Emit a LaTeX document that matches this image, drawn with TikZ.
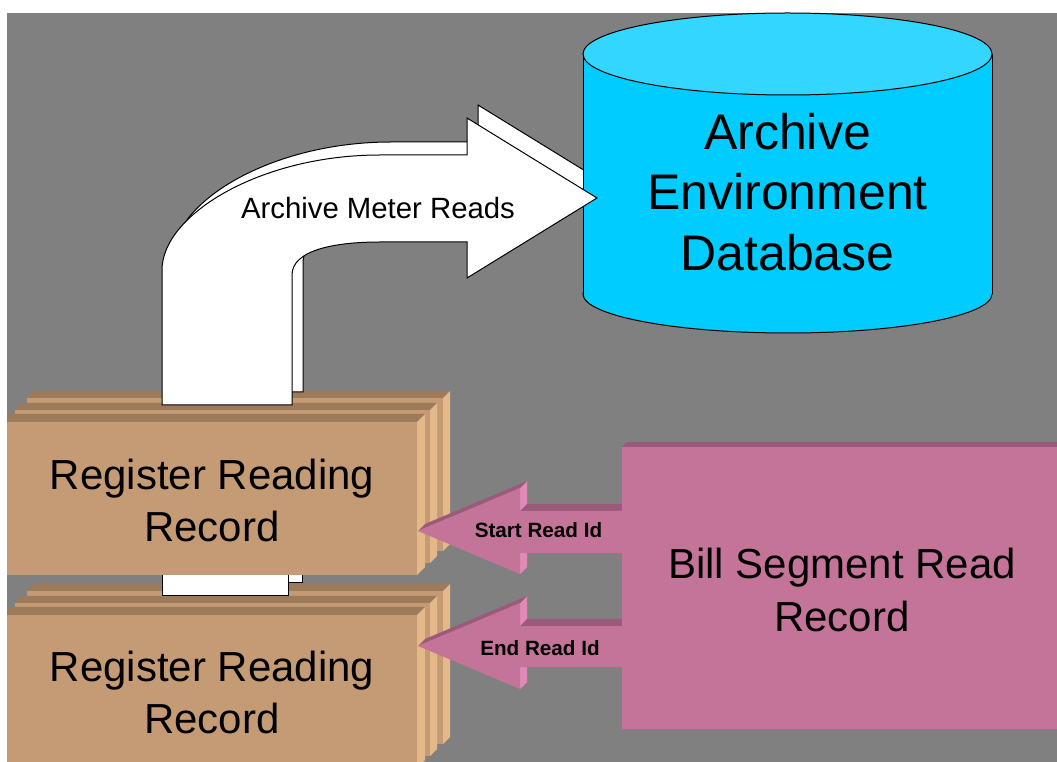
\documentclass[tikz,border=0pt]{standalone}
\usepackage{fontspec}
\setmainfont{Liberation Sans}
\definecolor{bggray}{RGB}{128,128,128}
\definecolor{tanface}{RGB}{196,155,116}
\definecolor{tandark}{RGB}{156,122,90}
\definecolor{tanlight}{RGB}{228,184,136}
\definecolor{pinkface}{RGB}{196,116,153}
\definecolor{pinkdark}{RGB}{156,90,122}
\definecolor{pinklight}{RGB}{224,138,184}
\definecolor{cyanbody}{RGB}{0,204,255}
\definecolor{cyantop}{RGB}{51,214,255}
\newcommand\tanlayer[5]{%
  \fill[tandark] (#1,#2) -- (#1+#5,#2-#5) -- (#3+#5,#2-#5) -- (#3,#2) -- cycle;
  \fill[tanlight] (#3,#2) -- (#3+#5,#2-#5) -- (#3+#5,#4-#5) -- (#3,#4) -- cycle;
  \fill[tanface] (#1,#2) rectangle (#3,#4);}
\tikzset{
  outl/.style={draw=black, line width=0.75pt, line join=miter},
  whiteshape/.style={outl, fill=white},
  bigtext/.style={font=\fontsize{37.5}{45.5}\selectfont, align=center, inner sep=0pt},
  rrtext/.style={font=\fontsize{31.5}{39}\selectfont, align=center, inner sep=0pt},
  billtext/.style={font=\fontsize{31.5}{39.75}\selectfont, align=center, inner sep=0pt},
  smalltext/.style={font=\bfseries\fontsize{15.5}{18}\selectfont, inner sep=0pt, anchor=base},
  pinkbox/.style={fill=pinkface, inner sep=0pt}
}
\begin{document}
\begin{tikzpicture}[x=0.75pt,y=-0.75pt]
\useasboundingbox (0,0) rectangle (1057,762);
\fill[white] (0,0) rectangle (1057,762);
\fill[bggray] (7,13) rectangle (1057,762);
\begin{scope}
\clip (7,13) rectangle (1057,762);

% ---- lower stack (back, middle)
\tanlayer{27}{591}{443}{744}{7}
\tanlayer{15}{603}{430}{756}{7}
% white shaft piece between the stacks
\filldraw[whiteshape] (173,560) rectangle (302,583);
\filldraw[whiteshape] (162,560) rectangle (288,596);
% lower stack front
\tanlayer{-5}{615}{417}{768}{8}
\node[rrtext] (rr2) at (212,692) {Register Reading\\Record};

% ---- upper stack (back, middle)
\tanlayer{27}{398}{443}{551}{7}
\tanlayer{15}{410}{430}{563}{7}

% ---- big bent arrow: shadow copy
\begin{scope}[shift={(11,-13)}]
\filldraw[whiteshape] (162,405) -- (162,270) .. controls (162,215) and (260,155) .. (380,155)
  -- (467,155) -- (467,118) -- (597,198) -- (467,278) -- (467,242) -- (380,242)
  .. controls (335,242) and (292,250) .. (292,275) -- (292,405) -- cycle;
\end{scope}

% ---- database cylinder
\filldraw[outl, fill=cyanbody] (787.5,294) ellipse[x radius=204.5, y radius=39];
\fill[cyanbody] (583,54) rectangle (992,294);
\draw[outl] (583,54) -- (583,294);
\draw[outl] (992,54) -- (992,294);
\filldraw[outl, fill=cyantop] (787.5,54) ellipse[x radius=204.5, y radius=41];
\node[bigtext] (db) at (787.5,192) {Archive\\Environment\\Database};

% ---- big bent arrow: front
\filldraw[whiteshape] (162,405) -- (162,270) .. controls (162,215) and (260,155) .. (380,155)
  -- (467,155) -- (467,118) -- (597,198) -- (467,278) -- (467,242) -- (380,242)
  .. controls (335,242) and (292,250) .. (292,275) -- (292,405) -- cycle;
\node[font=\fontsize{22}{26}\selectfont, inner sep=0pt, anchor=base] (amr) at (378,219) {Archive Meter Reads};

% ---- upper stack front
\tanlayer{-5}{422}{417}{575}{8}
\node[rrtext] (rr1) at (212,500) {Register Reading\\Record};

% ---- start read id arrow
\fill[pinklight] (520,488) -- (527,481) -- (527,567) -- (520,574) -- cycle;
\fill[pinkdark] (418,531) -- (425,524) -- (527,481) -- (520,488) -- cycle;
\fill[pinkdark] (520,511) -- (527,504) -- (625,504) -- (625,511) -- cycle;
\fill[pinkface] (418,531) -- (520,488) -- (520,511) -- (625,511) -- (625,553) -- (520,553) -- (520,574) -- cycle;
\node[smalltext] (sri) at (538.5,538) {Start Read Id};

% ---- end read id arrow
\fill[pinklight] (520,603) -- (527,596) -- (527,682) -- (520,689) -- cycle;
\fill[pinkdark] (418,646) -- (425,639) -- (527,596) -- (520,603) -- cycle;
\fill[pinkdark] (520,626) -- (527,619) -- (625,619) -- (625,626) -- cycle;
\fill[pinkface] (418,646) -- (520,603) -- (520,626) -- (625,626) -- (625,667) -- (520,667) -- (520,689) -- cycle;
\node[smalltext] (eri) at (540,655) {End Read Id};

% ---- bill segment read record box
\fill[pinkdark] (622,447) -- (627,442) -- (1070,442) -- (1065,447) -- cycle;
\node[pinkbox, anchor=north west, minimum width=328.5pt, minimum height=211.5pt] (bill) at (622,447) {};
\node[billtext] (billtxt) at (842,590) {Bill Segment Read\\Record};
\end{scope}
\end{tikzpicture}
\end{document}
